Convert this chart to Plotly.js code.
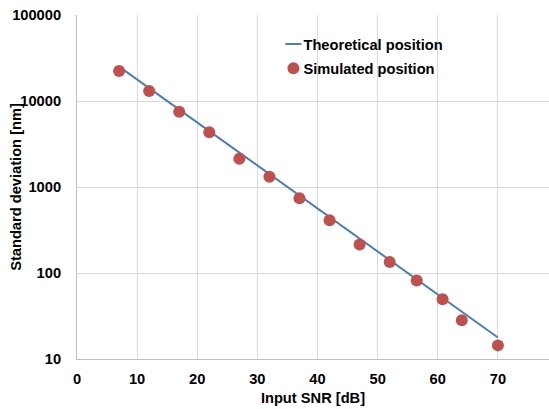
<!DOCTYPE html>
<html><head><meta charset="utf-8">
<script src="https://cdn.plot.ly/plotly-3.0.1.min.js"></script>
<style>html,body{margin:0;padding:0;background:#fff}#chart{width:549px;height:409px}</style>
</head><body><div id="chart"></div>
<script>
var theoryX = [7, 70];
var theoryY = [25100, 17.8];
var simX = [7, 12, 17, 22, 27, 32, 37, 42, 47, 52, 56.5, 60.8, 64, 70];
var simY = [22300, 13100, 7520, 4330, 2130, 1318, 740, 410, 215, 134, 82, 49.5, 28.2, 14.4];
var xTicks = [0, 10, 20, 30, 40, 50, 60, 70];
var yTicks = [10, 100, 1000, 10000, 100000];

var fam = '"Liberation Sans", Arial, sans-serif';
var fsz = 14.67;
var traces = [
  {x: theoryX, y: theoryY, mode: 'lines', name: '<b>Theoretical position</b>',
   line: {color: '#4a7ebb', width: 2}},
  {x: simX, y: simY, mode: 'markers', name: '<b>Simulated position</b>',
   marker: {color: '#c0504d', size: 12}}
];
var layout = {
  width: 549, height: 409,
  margin: {l: 77, r: 0, t: 15, b: 50},
  paper_bgcolor: '#fff', plot_bgcolor: '#fff',
  font: {family: fam, size: fsz, color: '#000'},
  showlegend: true,
  legend: {x: 0.395, y: 0.962, xanchor: 'left', yanchor: 'top', bgcolor: 'rgba(0,0,0,0)',
           itemwidth: 30, font: {family: fam, size: fsz, color: '#000'}, tracegroupgap: 0},
  xaxis: {
    range: [0, 78.5], tickvals: xTicks, ticktext: xTicks.map(function(v){return '<b>'+v+'</b>';}),
    showgrid: true, gridcolor: '#d9d9d9', gridwidth: 1,
    showline: true, linecolor: '#bfbfbf', linewidth: 1,
    zeroline: false, ticks: '', ticklabelstandoff: 6,
    title: {text: '<b>Input SNR [dB]</b>', font: {family: fam, size: fsz, color: '#000'}, standoff: 7}
  },
  yaxis: {
    type: 'log', range: [1, 5], tickvals: yTicks, ticktext: yTicks.map(function(v){return '<b>'+v+'</b>';}),
    showgrid: true, gridcolor: '#d9d9d9', gridwidth: 1,
    showline: true, linecolor: '#bfbfbf', linewidth: 1,
    zeroline: false, ticks: '', ticklabelstandoff: 12,
    title: {text: '<b>Standard deviation [nm]</b>', font: {family: fam, size: fsz, color: '#000'}, standoff: 0}
  }
};
Plotly.newPlot('chart', traces, layout, {displayModeBar: false, staticPlot: true}).then(function(gd){
  var paths = gd.querySelectorAll('.legend .legendlines path');
  paths.forEach(function(p){ p.setAttribute('d', 'M22,0h16'); });
  var pts = gd.querySelectorAll('.legend .legendpoints path');
  pts.forEach(function(p){ p.setAttribute('transform', 'translate(30,0)'); });
  var items = gd.querySelectorAll('.legend .traces');
  items.forEach(function(t, i){
    var tr = t.getAttribute('transform');
    var m = /translate\(([-\d.]+),\s*([-\d.]+)\)/.exec(tr);
    if (m) t.setAttribute('transform', 'translate(' + m[1] + ',' + (parseFloat(m[2]) + i * 2) + ')');
  });
  var yt = gd.querySelector('.ytitle');
  if (yt) {
    var g = yt.parentNode;
    var old = yt.getAttribute('transform') || '';
    yt.setAttribute('transform', 'translate(8,0) ' + old);
  }
});
</script></body></html>
